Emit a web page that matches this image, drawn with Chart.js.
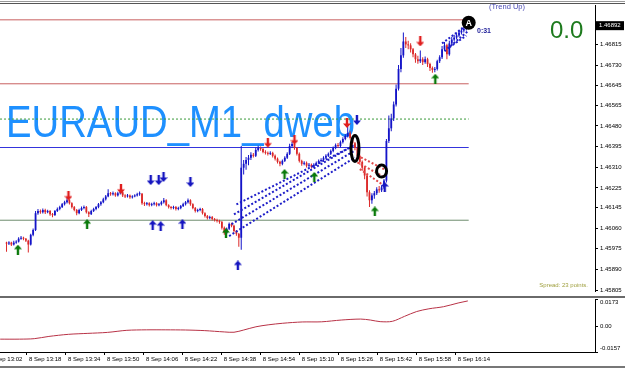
<!DOCTYPE html>
<html>
<head>
<meta charset="utf-8">
<script src="https://cdn.jsdelivr.net/npm/chart.js@4.4.0/dist/chart.umd.min.js"></script>
<style>
  body { margin: 0; background: #fff; }
  #frame { position: relative; width: 625px; height: 370px; overflow: hidden; background: #fff; }
  .wrap { position: absolute; left: -13px; }
  .rule { position: absolute; left: 0; width: 625px; }
</style>
</head>
<body>
<div id="frame">
  <div class="wrap" style="top:0"><canvas id="price" width="638" height="296"></canvas></div>
  <div class="wrap" style="top:298px"><canvas id="osc" width="638" height="72"></canvas></div>
  <div class="rule" style="top:1px;height:1px;background:#999"></div>
  <div class="rule" style="top:3px;height:1px;background:#555"></div>
  <div class="rule" style="top:296px;height:2px;background:#6a6a6a"></div>
  <div class="rule" style="top:366px;height:2px;background:#777"></div>
</div>
<script>
// EURAUD M1, minutes counted from 8 Sep 13:02, first bar is 13:08

const firstMinute = 6;

const open = [
  1.45998, 1.45996, 1.46000, 1.45992, 1.46000, 1.46004, 1.46016, 1.46020, 1.46016, 1.46008, 1.45992, 1.46032, 1.46052, 1.46121, 1.46130, 1.46125,
  1.46134, 1.46125, 1.46130, 1.46117, 1.46113, 1.46130, 1.46138, 1.46146, 1.46158, 1.46166, 1.46174, 1.46162, 1.46146, 1.46134, 1.46121, 1.46134,
  1.46142, 1.46146, 1.46125, 1.46117, 1.46130, 1.46138, 1.46146, 1.46158, 1.46166, 1.46178, 1.46190, 1.46203, 1.46199, 1.46203, 1.46194, 1.46203,
  1.46207, 1.46194, 1.46190, 1.46194, 1.46186, 1.46190, 1.46194, 1.46199, 1.46201, 1.46162, 1.46158, 1.46162, 1.46154, 1.46158, 1.46162, 1.46154,
  1.46158, 1.46166, 1.46174, 1.46154, 1.46146, 1.46142, 1.46146, 1.46138, 1.46142, 1.46150, 1.46158, 1.46166, 1.46174, 1.46158, 1.46142, 1.46130,
  1.46134, 1.46138, 1.46121, 1.46109, 1.46101, 1.46105, 1.46097, 1.46093, 1.46089, 1.46085, 1.46061, 1.46040, 1.46057, 1.46077, 1.46069, 1.46048,
  1.46036, 1.46020, 1.46308, 1.46324, 1.46340, 1.46349, 1.46361, 1.46357, 1.46381, 1.46389, 1.46385, 1.46373, 1.46369, 1.46365, 1.46369, 1.46357,
  1.46345, 1.46332, 1.46324, 1.46336, 1.46349, 1.46365, 1.46397, 1.46405, 1.46389, 1.46365, 1.46336, 1.46324, 1.46328, 1.46316, 1.46320, 1.46312,
  1.46320, 1.46328, 1.46336, 1.46340, 1.46349, 1.46357, 1.46365, 1.46377, 1.46389, 1.46401, 1.46397, 1.46413, 1.46426, 1.46438, 1.46450, 1.46430,
  1.46409, 1.46389, 1.46357, 1.46332, 1.46308, 1.46276, 1.46207, 1.46174, 1.46194, 1.46203, 1.46219, 1.46215, 1.46227, 1.46255, 1.46418, 1.46470,
  1.46511, 1.46568, 1.46633, 1.46714, 1.46770, 1.46827, 1.46815, 1.46811, 1.46795, 1.46774, 1.46754, 1.46746, 1.46754, 1.46742, 1.46754, 1.46734,
  1.46718, 1.46710, 1.46714, 1.46746, 1.46762, 1.46795, 1.46811, 1.46774, 1.46819, 1.46835, 1.46843, 1.46852, 1.46864, 1.46872, 1.46880, 1.46888
];

const high = [
  1.46004, 1.46006, 1.46004, 1.46008, 1.46010, 1.46022, 1.46027, 1.46024, 1.46019, 1.46012, 1.46036, 1.46058, 1.46130, 1.46138, 1.46136, 1.46140,
  1.46139, 1.46135, 1.46134, 1.46122, 1.46134, 1.46144, 1.46152, 1.46163, 1.46172, 1.46182, 1.46178, 1.46166, 1.46150, 1.46138, 1.46139, 1.46148,
  1.46153, 1.46150, 1.46129, 1.46135, 1.46143, 1.46151, 1.46163, 1.46171, 1.46184, 1.46196, 1.46219, 1.46208, 1.46210, 1.46207, 1.46209, 1.46214,
  1.46211, 1.46199, 1.46200, 1.46198, 1.46195, 1.46199, 1.46205, 1.46210, 1.46204, 1.46168, 1.46167, 1.46166, 1.46164, 1.46168, 1.46166, 1.46163,
  1.46172, 1.46183, 1.46178, 1.46158, 1.46151, 1.46152, 1.46150, 1.46147, 1.46155, 1.46164, 1.46171, 1.46181, 1.46178, 1.46162, 1.46146, 1.46139,
  1.46143, 1.46142, 1.46125, 1.46113, 1.46110, 1.46109, 1.46101, 1.46098, 1.46094, 1.46089, 1.46066, 1.46062, 1.46083, 1.46082, 1.46073, 1.46052,
  1.46040, 1.46397, 1.46340, 1.46352, 1.46360, 1.46372, 1.46368, 1.46390, 1.46398, 1.46395, 1.46390, 1.46380, 1.46375, 1.46376, 1.46374, 1.46362,
  1.46350, 1.46337, 1.46342, 1.46355, 1.46372, 1.46406, 1.46414, 1.46410, 1.46393, 1.46370, 1.46341, 1.46335, 1.46333, 1.46327, 1.46325, 1.46326,
  1.46334, 1.46342, 1.46347, 1.46355, 1.46363, 1.46371, 1.46383, 1.46395, 1.46408, 1.46410, 1.46420, 1.46433, 1.46446, 1.46478, 1.46458, 1.46436,
  1.46414, 1.46394, 1.46362, 1.46338, 1.46314, 1.46282, 1.46215, 1.46203, 1.46212, 1.46228, 1.46233, 1.46236, 1.46262, 1.46426, 1.46523, 1.46530,
  1.46580, 1.46650, 1.46730, 1.46800, 1.46864, 1.46845, 1.46830, 1.46820, 1.46800, 1.46780, 1.46768, 1.46790, 1.46762, 1.46765, 1.46760, 1.46740,
  1.46724, 1.46722, 1.46752, 1.46770, 1.46808, 1.46825, 1.46818, 1.46830, 1.46846, 1.46855, 1.46864, 1.46875, 1.46884, 1.46890, 1.46898, 1.46900
];

const low = [
  1.45962, 1.45990, 1.45986, 1.45988, 1.45995, 1.46000, 1.46012, 1.46010, 1.46002, 1.45959, 1.45988, 1.46026, 1.46048, 1.46115, 1.46119, 1.46120,
  1.46118, 1.46121, 1.46110, 1.46104, 1.46109, 1.46126, 1.46133, 1.46142, 1.46153, 1.46161, 1.46157, 1.46140, 1.46129, 1.46112, 1.46117, 1.46130,
  1.46137, 1.46120, 1.46105, 1.46113, 1.46126, 1.46133, 1.46141, 1.46152, 1.46162, 1.46173, 1.46186, 1.46193, 1.46194, 1.46189, 1.46190, 1.46198,
  1.46188, 1.46183, 1.46185, 1.46180, 1.46181, 1.46186, 1.46190, 1.46193, 1.46156, 1.46150, 1.46153, 1.46148, 1.46149, 1.46153, 1.46148, 1.46149,
  1.46153, 1.46161, 1.46149, 1.46140, 1.46136, 1.46137, 1.46132, 1.46133, 1.46137, 1.46146, 1.46153, 1.46161, 1.46152, 1.46137, 1.46124, 1.46125,
  1.46129, 1.46116, 1.46103, 1.46095, 1.46096, 1.46091, 1.46087, 1.46083, 1.46078, 1.46054, 1.46032, 1.46035, 1.46052, 1.46063, 1.46042, 1.46028,
  1.45983, 1.45971, 1.46280, 1.46300, 1.46318, 1.46340, 1.46350, 1.46352, 1.46375, 1.46378, 1.46367, 1.46362, 1.46358, 1.46360, 1.46350, 1.46338,
  1.46325, 1.46314, 1.46318, 1.46331, 1.46344, 1.46360, 1.46390, 1.46382, 1.46358, 1.46329, 1.46316, 1.46318, 1.46309, 1.46310, 1.46305, 1.46307,
  1.46315, 1.46323, 1.46331, 1.46335, 1.46344, 1.46352, 1.46360, 1.46372, 1.46384, 1.46390, 1.46392, 1.46408, 1.46421, 1.46432, 1.46424, 1.46402,
  1.46380, 1.46348, 1.46320, 1.46295, 1.46260, 1.46190, 1.46146, 1.46160, 1.46180, 1.46196, 1.46205, 1.46208, 1.46220, 1.46247, 1.46410, 1.46458,
  1.46500, 1.46560, 1.46625, 1.46700, 1.46760, 1.46800, 1.46795, 1.46782, 1.46762, 1.46740, 1.46735, 1.46738, 1.46730, 1.46735, 1.46722, 1.46706,
  1.46698, 1.46700, 1.46708, 1.46738, 1.46755, 1.46788, 1.46754, 1.46768, 1.46812, 1.46828, 1.46836, 1.46845, 1.46856, 1.46864, 1.46872, 1.46880
];

const close = [
  1.45996, 1.46000, 1.45992, 1.46000, 1.46004, 1.46016, 1.46020, 1.46016, 1.46008, 1.45992, 1.46032, 1.46052, 1.46121, 1.46130, 1.46125, 1.46134,
  1.46125, 1.46130, 1.46117, 1.46113, 1.46130, 1.46138, 1.46146, 1.46158, 1.46166, 1.46174, 1.46162, 1.46146, 1.46134, 1.46121, 1.46134, 1.46142,
  1.46146, 1.46125, 1.46117, 1.46130, 1.46138, 1.46146, 1.46158, 1.46166, 1.46178, 1.46190, 1.46203, 1.46199, 1.46203, 1.46194, 1.46203, 1.46207,
  1.46194, 1.46190, 1.46194, 1.46186, 1.46190, 1.46194, 1.46199, 1.46201, 1.46162, 1.46158, 1.46162, 1.46154, 1.46158, 1.46162, 1.46154, 1.46158,
  1.46166, 1.46174, 1.46154, 1.46146, 1.46142, 1.46146, 1.46138, 1.46142, 1.46150, 1.46158, 1.46166, 1.46174, 1.46158, 1.46142, 1.46130, 1.46134,
  1.46138, 1.46121, 1.46109, 1.46101, 1.46105, 1.46097, 1.46093, 1.46089, 1.46085, 1.46061, 1.46040, 1.46057, 1.46077, 1.46069, 1.46048, 1.46036,
  1.46020, 1.46308, 1.46324, 1.46340, 1.46349, 1.46361, 1.46357, 1.46381, 1.46389, 1.46385, 1.46373, 1.46369, 1.46365, 1.46369, 1.46357, 1.46345,
  1.46332, 1.46324, 1.46336, 1.46349, 1.46365, 1.46397, 1.46405, 1.46389, 1.46365, 1.46336, 1.46324, 1.46328, 1.46316, 1.46320, 1.46312, 1.46320,
  1.46328, 1.46336, 1.46340, 1.46349, 1.46357, 1.46365, 1.46377, 1.46389, 1.46401, 1.46397, 1.46413, 1.46426, 1.46438, 1.46450, 1.46430, 1.46409,
  1.46389, 1.46357, 1.46332, 1.46308, 1.46276, 1.46207, 1.46174, 1.46194, 1.46203, 1.46219, 1.46215, 1.46227, 1.46255, 1.46418, 1.46470, 1.46511,
  1.46568, 1.46633, 1.46714, 1.46770, 1.46827, 1.46815, 1.46811, 1.46795, 1.46774, 1.46754, 1.46746, 1.46754, 1.46742, 1.46754, 1.46734, 1.46718,
  1.46710, 1.46714, 1.46746, 1.46762, 1.46795, 1.46811, 1.46774, 1.46819, 1.46835, 1.46843, 1.46852, 1.46864, 1.46872, 1.46880, 1.46888, 1.46892
];

// axis ticks
const priceTicks = [1.46815, 1.46730, 1.46645, 1.46565, 1.46480, 1.46395, 1.46310, 1.46225, 1.46145, 1.46060, 1.45975, 1.45890, 1.45805];
const timeTicks = [0, 16, 32, 48, 64, 80, 96, 112, 128, 144, 160, 176, 192];
const timeLabels = ['8 Sep 13:02', '8 Sep 13:18', '8 Sep 13:34', '8 Sep 13:50', '8 Sep 14:06', '8 Sep 14:22', '8 Sep 14:38',
  '8 Sep 14:54', '8 Sep 15:10', '8 Sep 15:26', '8 Sep 15:42', '8 Sep 15:58', '8 Sep 16:14'];
const oscTicks = [-0.0157, 0, 0.0173];
const oscLabels = ['-0.0157', '0.00', '0.0173'];

// horizontal levels (red, red, green dotted, blue, green)
const levels = [1.46916, 1.46653, 1.46508, 1.46391, 1.46092];
const levelEnd = 197;

// signal arrows: minute, price
const redDownAt = [31.6, 53.3, 114, 125, 146.7, 177];
const redDownPrice = [1.46193, 1.46221, 1.46411, 1.46423, 1.46492, 1.46827];
const blueDownAt = [65.6, 68.9, 70.9, 82.0, 150.8];
const blueDownPrice = [1.46257, 1.46257, 1.46270, 1.46249, 1.46504];
const blueUpAt = [66.4, 69.7, 78.7, 101.6, 162.3];
const blueUpPrice = [1.46072, 1.46068, 1.46076, 1.45906, 1.46229];
const greenUpAt = [10.7, 39.3, 96.7, 120.9, 133.2, 158.2, 183.2];
const greenUpPrice = [1.45971, 1.46076, 1.46039, 1.46282, 1.46270, 1.46128, 1.46674];

// dashed fans: [minute, price, minute, price]
const blueFan = [[98, 1.46027, 150, 1.46350], [99, 1.46076, 150, 1.46379], [100, 1.46116, 150, 1.46403], [101, 1.46157, 148, 1.46391]];
const redFan = [[151, 1.46358, 162, 1.46302], [151, 1.46330, 162, 1.46270], [152, 1.46302, 161, 1.46241]];
const topFan = [[186, 1.46819, 197, 1.46900], [187, 1.46787, 197, 1.46872], [189, 1.46803, 196, 1.46851]];

// black rings: minute, price
const ovalAt = [150, 1.46387];
const ringAt = [161, 1.46294];
const dotAt = [197, 1.46904];

// oscillator in lower window
const oscMinutes = [5, 13, 19, 25, 33, 41, 49, 57, 65, 73, 81, 89, 97, 101, 105, 110, 115, 121, 129, 137, 145, 153, 157, 161, 166, 171, 176, 181, 187, 193, 197];
const oscValues = [-0.0077, -0.0077, -0.0074, -0.0060, -0.0047, -0.0041, -0.0035, -0.0022, -0.0019, -0.0019, -0.0020, -0.0024, -0.0032, -0.0034, -0.0020,
  0.0000, 0.0012, 0.0022, 0.0030, 0.0031, 0.0042, 0.0048, 0.0042, 0.0032, 0.0034, 0.0065, 0.0095, 0.0112, 0.0125, 0.0148, 0.0161];


const SHIFT = 13; // canvases sit 13px left of the page
const BULL = '#1414c8';
const BEAR = '#dc2828';
const levelColors = ['#c86060', '#c86060', '#3a9a3a', '#3434dc', '#6e8c6e'];
const levelDash = [[], [], [2, 2], [], []];

Chart.defaults.font.family = '"Liberation Sans", Arial, sans-serif';
Chart.defaults.color = '#000';

function arrowIcon(color, up) {
  const c = document.createElement('canvas');
  c.width = 8;
  c.height = 10;
  const g = c.getContext('2d');
  g.fillStyle = color;
  g.beginPath();
  if (up) {
    g.moveTo(4, 0); g.lineTo(8, 4.5); g.lineTo(5.2, 4.5); g.lineTo(5.2, 10); g.lineTo(2.8, 10); g.lineTo(2.8, 4.5); g.lineTo(0, 4.5);
  } else {
    g.moveTo(4, 10); g.lineTo(8, 5.5); g.lineTo(5.2, 5.5); g.lineTo(5.2, 0); g.lineTo(2.8, 0); g.lineTo(2.8, 5.5); g.lineTo(0, 5.5);
  }
  g.closePath();
  g.fill();
  return c;
}

function arrowSet(xs, ps, icon) {
  return {
    type: 'line',
    showLine: false,
    data: xs.map((m, k) => ({ x: m, y: ps[k] })),
    pointStyle: icon,
    pointRadius: 4,
    order: 0
  };
}

function segSet(seg, color, width, dash) {
  return {
    type: 'line',
    data: [{ x: seg[0], y: seg[1] }, { x: seg[2], y: seg[3] }],
    borderColor: color,
    borderWidth: width,
    borderDash: dash,
    pointRadius: 0,
    order: 2
  };
}

const minutes = open.map((o, k) => firstMinute + k);
const barColors = open.map((o, k) => close[k] >= o ? BULL : BEAR);

const datasets = [];

levels.forEach((p, k) => {
  datasets.push(Object.assign(segSet([0, p, levelEnd, p], levelColors[k], 1, levelDash[k]), { order: 9 }));
});

datasets.push({
  type: 'bar',
  data: minutes.map((m, k) => ({ x: m, y: [low[k], high[k]] })),
  backgroundColor: barColors,
  barThickness: 1,
  inflateAmount: 0,
  grouped: false,
  order: 5
});

datasets.push({
  type: 'bar',
  data: minutes.map((m, k) => ({ x: m, y: [open[k], close[k]] })),
  backgroundColor: barColors,
  barThickness: 1.8,
  minBarLength: 1,
  inflateAmount: 0,
  grouped: false,
  order: 4
});

blueFan.forEach(s => datasets.push(segSet(s, '#1e1ec8', 2, [2, 2])));
redFan.forEach(s => datasets.push(segSet(s, '#e04848', 2, [2, 2])));
topFan.forEach(s => datasets.push(segSet(s, '#1e1ec8', 2, [2, 2])));

datasets.push(arrowSet(redDownAt, redDownPrice, arrowIcon('#e01e1e', false)));
datasets.push(arrowSet(blueDownAt, blueDownPrice, arrowIcon('#1515c0', false)));
datasets.push(arrowSet(blueUpAt, blueUpPrice, arrowIcon('#1515c0', true)));
datasets.push(arrowSet(greenUpAt, greenUpPrice, arrowIcon('#0a7a0a', true)));

// texts and marks on the price window
const overlay = {
  id: 'overlay',
  beforeDatasetsDraw(chart) {
    const ctx = chart.ctx;
    ctx.save();
    ctx.fillStyle = '#1e90ff';
    ctx.font = '44px "Liberation Sans", Arial, sans-serif';
    ctx.textBaseline = 'alphabetic';
    ctx.fillText('EURAUD_M1_dweb', SHIFT + 6, 137, 349);
    ctx.restore();
  },
  afterDatasetsDraw(chart) {
    const { ctx, scales: { x, y } } = chart;
    ctx.save();

    ctx.strokeStyle = '#000';
    ctx.lineWidth = 3;
    ctx.beginPath();
    ctx.ellipse(x.getPixelForValue(ovalAt[0]), y.getPixelForValue(ovalAt[1]), 4, 13, 0, 0, Math.PI * 2);
    ctx.stroke();
    ctx.beginPath();
    ctx.ellipse(x.getPixelForValue(ringAt[0]), y.getPixelForValue(ringAt[1]), 5, 6, 0, 0, Math.PI * 2);
    ctx.stroke();

    const dx = x.getPixelForValue(dotAt[0]);
    const dy = y.getPixelForValue(dotAt[1]);
    ctx.fillStyle = '#000';
    ctx.beginPath();
    ctx.arc(dx, dy, 7, 0, Math.PI * 2);
    ctx.fill();
    ctx.fillStyle = '#fff';
    ctx.font = 'bold 9px "Liberation Sans", Arial, sans-serif';
    ctx.textAlign = 'center';
    ctx.textBaseline = 'middle';
    ctx.fillText('A', dx, dy + 1);

    ctx.fillStyle = '#23239b';
    ctx.font = 'bold 7px "Liberation Sans", Arial, sans-serif';
    ctx.textAlign = 'left';
    ctx.fillText('0:31', SHIFT + 477, 31);

    ctx.fillStyle = '#4a4ab4';
    ctx.font = '7.5px "Liberation Sans", Arial, sans-serif';
    ctx.textAlign = 'center';
    ctx.fillText('(Trend Up)', SHIFT + 507, 7);

    ctx.fillStyle = '#1e7b1e';
    ctx.font = '24px "Liberation Sans", Arial, sans-serif';
    ctx.textAlign = 'left';
    ctx.textBaseline = 'alphabetic';
    ctx.fillText('0.0', SHIFT + 550, 38);

    ctx.fillStyle = '#a0a040';
    ctx.font = '6px "Liberation Sans", Arial, sans-serif';
    ctx.textAlign = 'right';
    ctx.textBaseline = 'middle';
    ctx.fillText('Spread: 23 points.', SHIFT + 588, 285);
    ctx.restore();
  },
  afterDraw(chart) {
    // current bid label on the price scale
    const { ctx, scales: { y } } = chart;
    const last = close[close.length - 1];
    const py = y.getPixelForValue(last);
    ctx.save();
    ctx.fillStyle = '#000';
    ctx.fillRect(SHIFT + 596, py - 4.5, 28, 9);
    ctx.fillStyle = '#fff';
    ctx.font = '6px "Liberation Sans", Arial, sans-serif';
    ctx.textBaseline = 'middle';
    ctx.fillText(last.toFixed(5), SHIFT + 599, py);
    ctx.restore();
  }
};

const priceChart = new Chart(document.getElementById('price'), {
  type: 'bar',
  data: { datasets: datasets },
  options: {
    responsive: false,
    animation: false,
    devicePixelRatio: 1,
    layout: { padding: { top: 5, left: 0, right: 0, bottom: 0 } },
    plugins: { legend: { display: false }, tooltip: { enabled: false } },
    scales: {
      x: { type: 'linear', min: 0, max: 249.2, offset: false, display: false, grid: { offset: false } },
      y: {
        position: 'right',
        min: 1.45801,
        max: 1.46977,
        afterBuildTicks: s => { s.ticks = priceTicks.map(v => ({ value: v })); },
        afterFit: s => { s.width = 30; s.paddingTop = 0; s.paddingBottom = 0; },
        ticks: { font: { size: 6 }, color: '#000', padding: 2, autoSkip: false, callback: v => v.toFixed(5) },
        grid: { drawOnChartArea: false, tickLength: 3, color: '#000' },
        border: { color: '#000' }
      }
    }
  },
  plugins: [overlay]
});

const oscChart = new Chart(document.getElementById('osc'), {
  type: 'line',
  data: {
    datasets: [{
      data: oscMinutes.map((m, k) => ({ x: m, y: oscValues[k] })),
      borderColor: '#b83246',
      borderWidth: 1,
      pointRadius: 0,
      tension: 0.3
    }]
  },
  options: {
    responsive: false,
    animation: false,
    devicePixelRatio: 1,
    layout: { padding: { top: 1, left: 0, right: 0, bottom: 0 } },
    plugins: { legend: { display: false }, tooltip: { enabled: false } },
    scales: {
      x: {
        type: 'linear',
        min: 0,
        max: 249.2,
        afterBuildTicks: s => { s.ticks = timeTicks.map(v => ({ value: v })); },
        afterFit: s => { s.height = 18; },
        ticks: { font: { size: 6 }, color: '#000', align: 'start', labelOffset: 2, padding: 1, maxRotation: 0, autoSkip: false,
          callback: (v, i) => timeLabels[i] },
        grid: { drawOnChartArea: false, tickLength: 3, color: '#000' },
        border: { color: '#000' }
      },
      y: {
        position: 'right',
        min: -0.0157,
        max: 0.0173,
        afterBuildTicks: s => { s.ticks = oscTicks.map(v => ({ value: v })); },
        afterFit: s => { s.width = 30; s.paddingTop = 0; s.paddingBottom = 0; },
        ticks: { font: { size: 6 }, color: '#000', padding: 2, autoSkip: false,
          callback: (v, i) => i === 0 ? [oscLabels[i], ''] : (i === oscLabels.length - 1 ? ['', oscLabels[i]] : oscLabels[i]) },
        grid: { drawOnChartArea: false, tickLength: 3, color: '#000' },
        border: { color: '#000' }
      }
    }
  }
});
</script>
</body>
</html>
